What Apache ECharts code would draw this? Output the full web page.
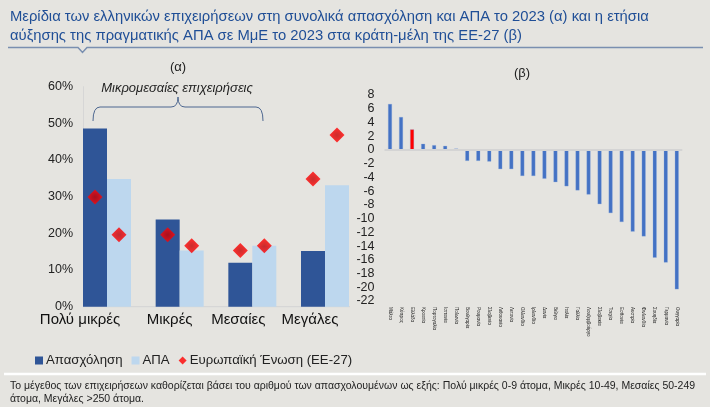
<!DOCTYPE html>
<html><head><meta charset="utf-8">
<script src="https://cdn.jsdelivr.net/npm/echarts@6/dist/echarts.min.js"></script>
<style>html,body{margin:0;padding:0;background:#e5e4e0;}#c{width:710px;height:407px;}</style>
</head><body><div id="c"></div>
<script>
// ---- data ----
const sizeCategories = ['Πολύ μικρές', 'Μικρές', 'Μεσαίες', 'Μεγάλες'];
const grEmployment = [48.6, 23.8, 12.0, 15.2];
const grValueAdded = [34.8, 15.3, 16.6, 33.1];
const euEmployment = [29.9, 19.6, 15.3, 34.8];
const euValueAdded = [19.6, 16.6, 16.6, 46.8];
const countries = ['Μάλτα','Κύπρος','Ελλάδα','Κροατία','Πορτογαλία','Ισπανία','Πολωνία','Βουλγαρία','Ρουμανία','Σλοβενία','Λιθουανία','Λετονία','Ολλανδία','Ιρλανδία','Δανία','Βέλγιο','Ιταλία','Γαλλία','Λουξεμβούργο','Σλοβακία','Τσεχία','Εσθονία','Αυστρία','Φινλανδία','Σουηδία','Γερμανία','Ουγγαρία'];
const smeVaGrowth = [6.7, 4.8, 3.0, 0.9, 0.7, 0.6, 0.2, -1.6, -1.6, -1.7, -2.8, -2.8, -3.8, -3.8, -4.2, -4.7, -5.3, -5.9, -6.5, -7.9, -9.2, -10.5, -11.9, -12.6, -15.7, -16.4, -20.3];
const highlightCountry = 'Ελλάδα';

const FONT = '"Liberation Sans", Arial, sans-serif';
const chart = echarts.init(document.getElementById('c'), null, {renderer: 'canvas'});

const labelShift = {'Πολύ μικρές': 54, 'Μικρές': 20, 'Μεσαίες': 28, 'Μεγάλες': 30};
const rich = {};
sizeCategories.forEach((c, i) => { rich['s' + i] = {padding: [0, labelShift[c], 0, 0], fontSize: 15, color: '#111', fontFamily: FONT}; });

const diamondFill = {type: 'radial', x: 0.5, y: 0.5, r: 0.5, colorStops: [
  {offset: 0, color: '#c40000'}, {offset: 0.45, color: '#e20000'}, {offset: 0.8, color: '#ff0000'}, {offset: 1, color: '#ff0a0a'}]};
const EU = 'Ευρωπαϊκή Ένωση (ΕΕ-27)';
const braceStyle = {stroke: '#4d6790', lineWidth: 1, fill: null};

chart.setOption({
  backgroundColor: '#e5e4e0',
  animation: false,
  textStyle: {fontFamily: FONT},
  legend: {
    left: 30, top: 349, itemWidth: 8, itemHeight: 8, itemGap: 9,
    textStyle: {fontSize: 13.2, color: '#222', fontFamily: FONT, padding: [0, 0, 0, -2]},
    data: [
      {name: 'Απασχόληση', icon: 'rect'},
      {name: 'ΑΠΑ', icon: 'rect'},
      {name: EU, icon: 'diamond', itemStyle: {color: '#ff0000'}}
    ],
    selectedMode: false
  },
  grid: [
    {left: 70.67, width: 290.67, top: 86.7, height: 220, containLabel: false},
    {left: 384.5, width: 297.8, top: 95, height: 206, containLabel: false}
  ],
  xAxis: [
    {gridIndex: 0, type: 'category', data: sizeCategories, axisLine: {show: false}, axisTick: {show: false},
     axisLabel: {margin: 6, interval: 0, formatter: (v) => '{s' + sizeCategories.indexOf(v) + '|' + v + '}', rich: rich}},
    {gridIndex: 1, type: 'category', data: countries, axisLine: {show: false, onZero: false}, axisTick: {show: false},
     axisLabel: {interval: 0, rotate: -90, fontSize: 4.5, color: '#222', margin: 6}}
  ],
  yAxis: [
    {gridIndex: 0, type: 'value', min: 0, max: 60, interval: 10, offset: -12.33,
     axisLine: {show: true, lineStyle: {color: '#d6d6d6', width: 1}}, axisTick: {show: false}, splitLine: {show: false},
     axisLabel: {formatter: '{value}%', fontSize: 12.5, color: '#222', margin: 10}},
    {gridIndex: 1, type: 'value', min: -22, max: 8, interval: 2,
     axisLine: {show: false}, axisTick: {show: false}, splitLine: {show: false},
     axisLabel: {fontSize: 12.5, color: '#222', margin: 10}}
  ],
  series: [
    {name: 'Απασχόληση', type: 'bar', xAxisIndex: 0, yAxisIndex: 0, data: grEmployment, barWidth: 24, barGap: '0%',
     itemStyle: {color: '#2f5597'}},
    {name: 'ΑΠΑ', type: 'bar', xAxisIndex: 0, yAxisIndex: 0, data: grValueAdded, barWidth: 24, barGap: '0%',
     itemStyle: {color: '#bdd7ee'}},
    {name: EU, type: 'scatter', xAxisIndex: 0, yAxisIndex: 0, data: euEmployment, symbol: 'diamond',
     symbolSize: [15, 15], symbolOffset: [-12, 0], itemStyle: {color: diamondFill}, z: 5},
    {name: EU, type: 'scatter', xAxisIndex: 0, yAxisIndex: 0, data: euValueAdded, symbol: 'diamond',
     symbolSize: [15, 15], symbolOffset: [12, 0], itemStyle: {color: diamondFill}, z: 5},
    {name: 'Αύξηση ΑΠΑ ΜμΕ', type: 'bar', xAxisIndex: 1, yAxisIndex: 1, barWidth: 4,
     data: smeVaGrowth.map((v, i) => countries[i] === highlightCountry ? {value: v, itemStyle: {color: '#ff0000'}} : v),
     itemStyle: {color: '#4472c4', borderColor: 'rgba(140,170,220,0.6)', borderWidth: 0.5},
     markLine: {silent: true, symbol: 'none', label: {show: false}, lineStyle: {color: '#d4d4d4', width: 2, type: 'solid'},
       data: [{yAxis: 0}]}, z: 3}
  ],
  graphic: [
    {type: 'text', x: 10, y: 17, style: {text: 'Μερίδια των ελληνικών επιχειρήσεων στη συνολικά απασχόληση και ΑΠΑ το 2023 (α) και η ετήσια', font: '14.8px ' + FONT, fill: '#1f4e96', textVerticalAlign: 'middle'}},
    {type: 'text', x: 10, y: 36, style: {text: 'αύξησης της πραγματικής ΑΠΑ σε ΜμΕ το 2023 στα κράτη-μέλη της ΕΕ-27 (β)', font: '14.8px ' + FONT, fill: '#1f4e96', textVerticalAlign: 'middle'}},
    {type: 'polyline', shape: {points: [[8, 47.5], [78, 47.5], [82.5, 52.5], [87, 47.5], [703, 47.5]]}, style: {stroke: '#7a8fb0', lineWidth: 1.5, fill: null}},
    {type: 'text', x: 178, y: 67, style: {text: '(α)', font: '13px ' + FONT, fill: '#222', textAlign: 'center', textVerticalAlign: 'middle'}},
    {type: 'text', x: 522, y: 73, style: {text: '(β)', font: '13px ' + FONT, fill: '#222', textAlign: 'center', textVerticalAlign: 'middle'}},
    {type: 'text', x: 177, y: 88, style: {text: 'Μικρομεσαίες επιχειρήσεις', font: 'italic 13px ' + FONT, fill: '#222', textAlign: 'center', textVerticalAlign: 'middle'}},
    {type: 'bezierCurve', shape: {x1: 93, y1: 121, x2: 100, y2: 107, cpx1: 93, cpy1: 107}, style: braceStyle},
    {type: 'line', shape: {x1: 100, y1: 107, x2: 171, y2: 107}, style: braceStyle},
    {type: 'bezierCurve', shape: {x1: 171, y1: 107, x2: 178, y2: 97, cpx1: 178, cpy1: 107}, style: braceStyle},
    {type: 'bezierCurve', shape: {x1: 178, y1: 97, x2: 185, y2: 107, cpx1: 178, cpy1: 107}, style: braceStyle},
    {type: 'line', shape: {x1: 185, y1: 107, x2: 256, y2: 107}, style: braceStyle},
    {type: 'bezierCurve', shape: {x1: 256, y1: 107, x2: 263, y2: 121, cpx1: 263, cpy1: 107}, style: braceStyle},
    {type: 'line', shape: {x1: 83, y1: 306.7, x2: 350, y2: 306.7}, style: {stroke: '#d6d6d6', lineWidth: 1.2}},
    {type: 'line', shape: {x1: 4, y1: 374, x2: 706, y2: 374}, style: {stroke: '#ffffff', lineWidth: 2.5}},
    {type: 'text', x: 10, y: 386, style: {text: 'Το μέγεθος των επιχειρήσεων καθορίζεται βάσει του αριθμού των απασχολουμένων ως εξής: Πολύ μικρές 0-9 άτομα, Μικρές 10-49, Μεσαίες 50-249', font: '10.5px ' + FONT, fill: '#222', textVerticalAlign: 'middle'}},
    {type: 'text', x: 10, y: 399, style: {text: 'άτομα, Μεγάλες >250 άτομα.', font: '10.5px ' + FONT, fill: '#222', textVerticalAlign: 'middle'}}
  ]
});
</script>
</body></html>
